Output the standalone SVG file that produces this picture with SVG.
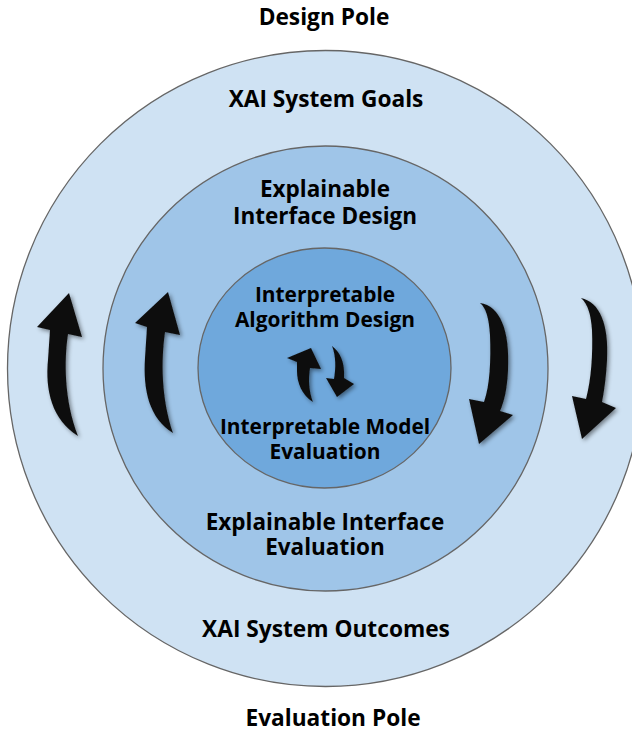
<svg xmlns="http://www.w3.org/2000/svg" width="632" height="733" viewBox="0 0 632 733">
<defs>
<style>
.t{font-family:"Open Sans","Noto Sans","Liberation Sans",sans-serif;font-weight:700;fill:#000;text-anchor:middle}
.big{font-size:22.7px}
.mid{font-size:22.5px}
.sm{font-size:20.9px}
.ring{stroke:#666;stroke-width:1.3}
.arr{fill:#111;filter:url(#sh)}
</style>
<filter id="sh" x="-50%" y="-50%" width="200%" height="200%">
<feGaussianBlur in="SourceGraphic" stdDeviation="0.6" result="b"/>
<feDropShadow in="b" dx="2" dy="2" stdDeviation="2" flood-color="#000" flood-opacity="0.45"/>
</filter>
</defs>
<rect width="632" height="733" fill="#fff"/>
<g id="outer">
<circle class="ring" cx="325.5" cy="368.5" r="318" fill="#cfe2f3"/>
</g>
<g id="middle">
<circle class="ring" cx="325.5" cy="368.5" r="222.5" fill="#9fc5e8"/>
</g>
<g id="inner">
<ellipse class="ring" cx="324.5" cy="368" rx="126.5" ry="120" fill="#6fa8dc"/>
</g>
<g id="labels">
<text class="t big" x="324" y="25">Design Pole</text>
<text class="t big" x="326" y="107">XAI System Goals</text>
<text class="t mid" x="325" y="197">Explainable</text>
<text class="t mid" x="325" y="224">Interface Design</text>
<text class="t sm" x="325" y="302">Interpretable</text>
<text class="t sm" x="325" y="327">Algorithm Design</text>
<text class="t sm" x="325" y="434">Interpretable Model</text>
<text class="t sm" x="325" y="459">Evaluation</text>
<text class="t mid" x="325" y="530">Explainable Interface</text>
<text class="t mid" x="325" y="555">Evaluation</text>
<text class="t big" x="326" y="637">XAI System Outcomes</text>
<text class="t big" x="333" y="726">Evaluation Pole</text>
</g>
<g id="connectors">
<path class="arr" d="M69,293 L82,337 L68,334 C64,360 64,400 78,436 C52,420 45,390 48,360 L50,330 L37,327 Z"/>
<path class="arr" d="M168,292 L180,335 L165,332 C161,360 161,398 173,433 C149,418 143,390 145,358 L147,327 L135,323 Z"/>
<path class="arr" d="M480,303 C500,306 510,330 508,370 C507,390 504,402 500,411 L513,415 L479,444 L469,399 L484,402 C490,385 491,360 490,335 C489,318 486,308 480,303 Z"/>
<path class="arr" d="M581,298 C600,302 609,325 607,360 C606,378 604,392 602,402 L616,408 L582,439 L572,396 L586,399 C591,380 593,355 592,330 C591,315 588,304 581,298 Z"/>
<path class="arr" d="M311,348 L321,369 L310,368 C308,380 309,392 313,402 C302,395 297,383 297,371 L297,362 L287,358 Z"/>
<path class="arr" d="M332,346 C340,352 345,362 344,378 L354,384 L337,397 L326,378 L334,379 C336,368 336,356 332,346 Z"/>
</g>
</svg>
